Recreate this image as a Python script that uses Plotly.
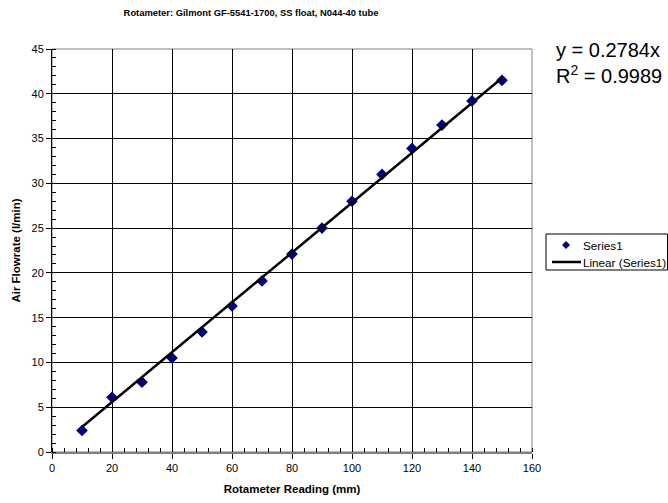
import plotly.graph_objects as go

reading_mm = [10, 20, 30, 40, 50, 60, 70, 80, 90, 100, 110, 120, 130, 140, 150]
flow_lpm = [2.4, 6.1, 7.8, 10.5, 13.4, 16.3, 19.1, 22.1, 25.0, 28.0, 31.0, 33.9, 36.5, 39.2, 41.5]
slope = 0.2784
r2 = 0.9989
fit_x = [10, 150]
fit_y = [slope * v for v in fit_x]
x_ticks = list(range(0, 161, 20))
y_ticks = list(range(0, 46, 5))

W, H = 668, 503
L, R, T, B = 52, 136, 49, 51
PW, PH = W - L - R, H - T - B


def px(xp):
    return (xp - L) / PW


def py(yp):
    return (H - B - yp) / PH


fig = go.Figure()
fig.add_trace(go.Scatter(x=reading_mm, y=flow_lpm, mode="markers", name="Series1",
                         marker=dict(symbol="diamond", size=9, color="#000080")))
fig.add_trace(go.Scatter(x=fit_x, y=fit_y, mode="lines", name="Linear (Series1)",
                         line=dict(color="black", width=2.5)))

FONT = "Arial, Liberation Sans, sans-serif"
fig.update_layout(
    width=W, height=H,
    margin=dict(l=L, r=R, t=T, b=B, autoexpand=False),
    paper_bgcolor="white", plot_bgcolor="white",
    font=dict(family=FONT, size=11, color="black"),
    title=dict(text="<b>Rotameter: Gilmont GF-5541-1700, SS float, N044-40 tube</b>",
               x=251 / W, xanchor="center", y=1 - 13 / H, yanchor="middle",
               font=dict(size=9.4)),
    showlegend=False,
    annotations=[
        dict(text=f"y = {slope}x<br>R<sup>2</sup> = {r2}", xref="paper", yref="paper",
             x=px(554), y=py(37), xanchor="left", yanchor="top", showarrow=False,
             align="left", font=dict(size=20)),
        dict(text="Series1", xref="paper", yref="paper", x=px(581), y=py(245),
             xanchor="left", yanchor="middle", showarrow=False, font=dict(size=11.7)),
        dict(text="Linear (Series1)", xref="paper", yref="paper", x=px(581), y=py(262),
             xanchor="left", yanchor="middle", showarrow=False, font=dict(size=11.7)),
    ],
    shapes=[
        dict(type="rect", xref="paper", yref="paper", x0=px(546), x1=px(667.5),
             y0=py(270), y1=py(234), line=dict(color="black", width=1), fillcolor="white"),
        dict(type="path", xref="paper", yref="paper",
             path=f"M {px(566)} {py(241)} L {px(570)} {py(245)} L {px(566)} {py(249)} L {px(562)} {py(245)} Z",
             fillcolor="#000080", line=dict(color="#000080", width=0)),
        dict(type="line", xref="paper", yref="paper", x0=px(552), x1=px(581),
             y0=py(262), y1=py(262), line=dict(color="black", width=2.5)),
        dict(type="rect", xref="paper", yref="paper", x0=0, y0=0, x1=1, y1=1,
             line=dict(color="#808080", width=1), layer="below"),
    ],
)
fig.update_xaxes(range=[0, 160], tickvals=x_ticks,
                 showgrid=True, gridcolor="black", gridwidth=1,
                 showline=True, linecolor="#808080", linewidth=2,
                 ticks="outside", ticklen=5, tickcolor="black",
                 minor=dict(dtick=4, ticks="inside", ticklen=4, tickcolor="black", showgrid=False),
                 zeroline=False, automargin=False,
                 title=dict(text="<b>Rotameter Reading (mm)</b>", font=dict(size=11.5), standoff=12))
fig.update_yaxes(range=[0, 45], tickvals=y_ticks,
                 showgrid=True, gridcolor="black", gridwidth=1,
                 showline=True, linecolor="black", linewidth=1,
                 ticks="outside", ticklen=5, tickcolor="black",
                 minor=dict(dtick=1, ticks="inside", ticklen=4, tickcolor="black", showgrid=False),
                 zeroline=False, automargin=False,
                 title=dict(text="<b>Air Flowrate (l/min)</b>", font=dict(size=11.5), standoff=8))
fig.write_html("out.html", config={"displayModeBar": False},
               post_script="document.body.style.margin='0';")
